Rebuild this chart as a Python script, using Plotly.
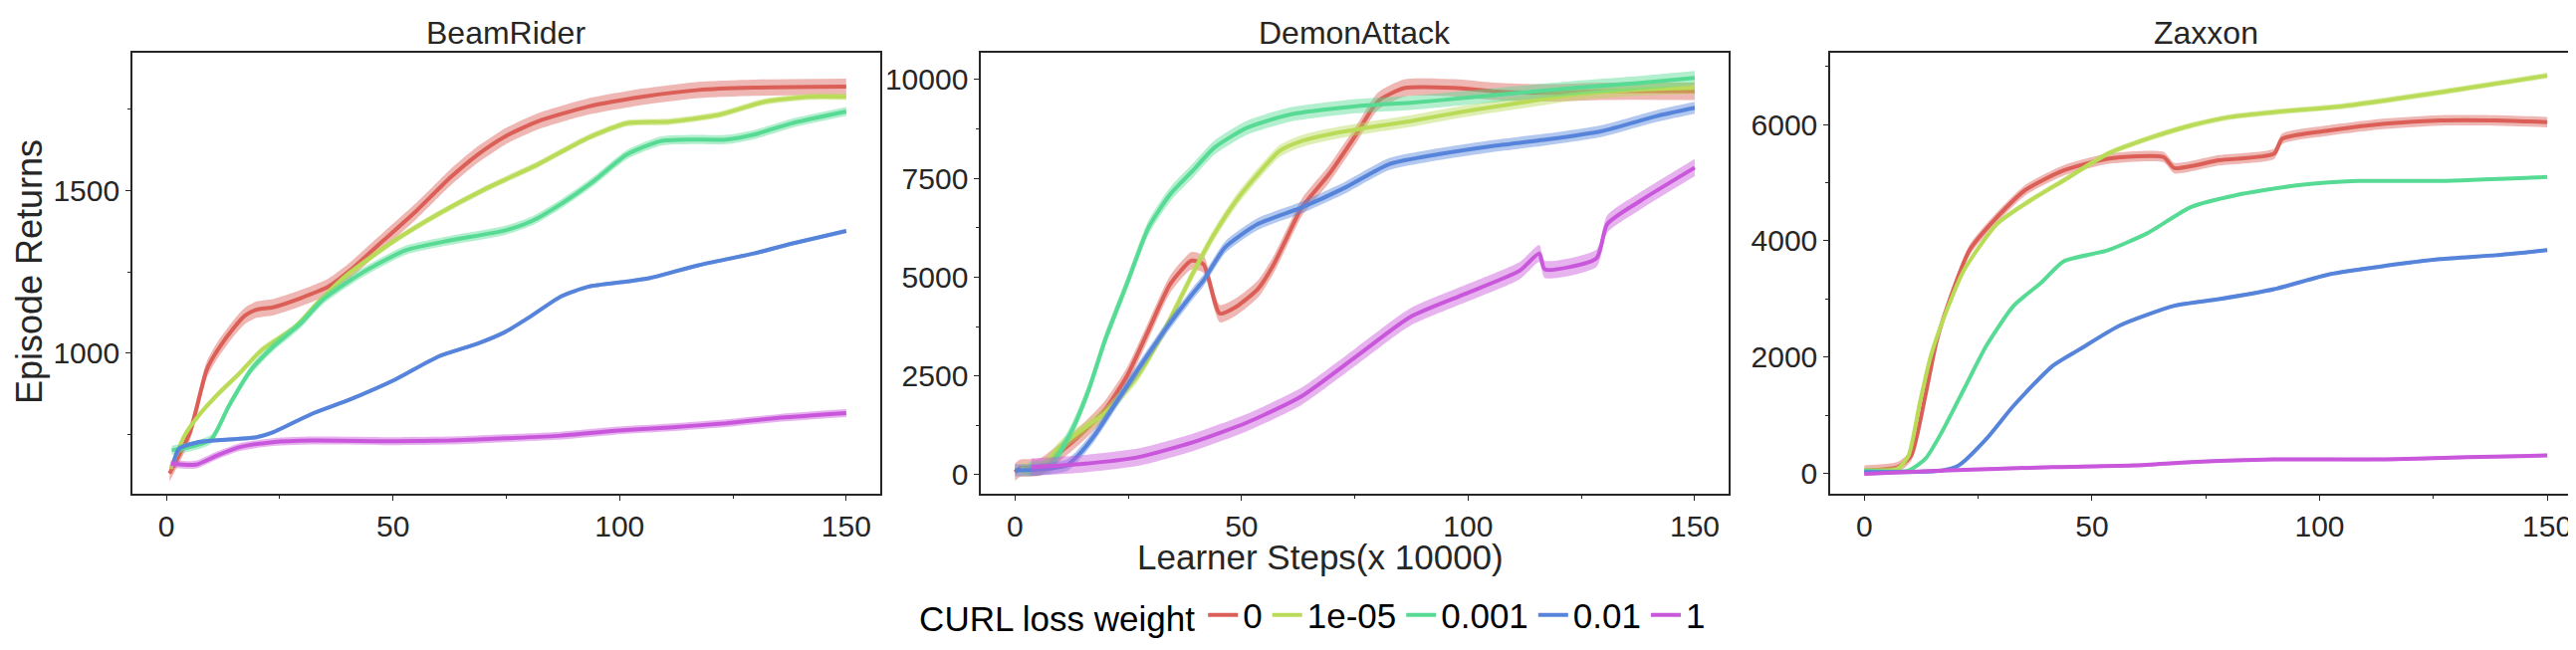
# Episode returns vs learner steps for three Atari games, grouped by CURL loss weight
import numpy as np
import plotly.graph_objects as go
from plotly.subplots import make_subplots

GAMES = ['BeamRider', 'DemonAttack', 'Zaxxon']
WEIGHTS = ['0', '1e-05', '0.001', '0.01', '1']
COLORS = ['#db5f57', '#b9db57', '#57db94', '#5784db', '#c957db']

# BeamRider, one x/y pair per loss weight
BR_X_0 = [0.7, 5.2, 8.9, 11.3, 15, 17.4, 19.9, 23.5, 29.6, 35.7, 40.6, 47.9, 55.2, 62.6, 68.7, 74.8, 82, 93, 105, 117.4, 129.6, 150]
BR_Y_0 = [632, 758, 950, 1010, 1080, 1116, 1134, 1141, 1169, 1204, 1255, 1346, 1437, 1538, 1609, 1665, 1711, 1756, 1786, 1807, 1814, 1817]
BR_X_1 = [1, 4, 7.7, 11.3, 16.2, 21, 28.4, 33.3, 39.4, 50.4, 60, 71, 82, 93, 101.6, 111, 122, 132, 141.8, 150]
BR_Y_1 = [647, 748, 819, 874, 940, 1010, 1081, 1154, 1235, 1346, 1427, 1508, 1579, 1660, 1705, 1710, 1731, 1771, 1786, 1786]
BR_X_2 = [1.2, 6.5, 10, 13.8, 18.7, 23.5, 29.6, 34.5, 43, 52.8, 62.6, 74.8, 80.9, 87, 94.3, 101.6, 109, 116, 123.5, 129.6, 138, 150]
BR_Y_2 = [703, 718, 738, 839, 950, 1020, 1091, 1164, 1245, 1316, 1346, 1377, 1407, 1457, 1528, 1609, 1650, 1655, 1655, 1670, 1705, 1741]
BR_X_3 = [1.6, 2.8, 7, 13.8, 19.9, 23.5, 32, 40.6, 50.4, 60, 68.7, 74.8, 80, 87, 93, 101.6, 106.5, 117.4, 129.6, 138, 150]
BR_Y_3 = [667, 708, 728, 736, 743, 758, 814, 859, 919, 990, 1030, 1066, 1110, 1174, 1204, 1220, 1230, 1270, 1306, 1336, 1375]
BR_X_4 = [1, 6.5, 11.3, 16.2, 23.5, 32, 50.4, 62.6, 74.8, 87, 99, 111, 123.5, 135.7, 150]
BR_Y_4 = [662, 659, 688, 713, 728, 733, 731, 733, 740, 748, 763, 773, 786, 803, 817]
BR_SPREAD = [25, 10, 14, 6, 12]

# DemonAttack
DA_X_0 = [0, 1.2, 5.4, 9, 15, 19.9, 24.7, 29.5, 34.3, 39, 41.6, 45.2, 48.8, 53.6, 57, 60, 63.3, 69.3, 75.3, 80.1, 86.1, 97, 105.4, 117.5, 129.5, 150]
DA_Y_0 = [67, 167, 190, 485, 1070, 1655, 2490, 3660, 4830, 5420, 5330, 4080, 4250, 4700, 5300, 6000, 6765, 7605, 8613, 9454, 9790, 9790, 9706, 9664, 9706, 9706]
DA_X_1 = [1.2, 5.4, 10.2, 15, 19.9, 27, 33, 39.2, 44, 48.8, 53.6, 58.4, 63.3, 69.3, 77.7, 87.3, 99.4, 111.4, 123.5, 138, 150]
DA_Y_1 = [150, 150, 735, 1150, 1570, 2490, 3660, 5084, 6093, 6933, 7605, 8193, 8445, 8613, 8782, 8950, 9202, 9412, 9622, 9748, 9790]
DA_X_2 = [3, 7.8, 12.7, 16.3, 19.9, 24.7, 29.5, 34.3, 39.2, 44, 51.2, 60.8, 75.3, 87.3, 99.4, 111.4, 123.5, 138, 150]
DA_Y_2 = [150, 234, 1154, 2157, 3411, 4832, 6261, 7101, 7689, 8277, 8782, 9118, 9328, 9412, 9538, 9664, 9790, 9916, 10042]
DA_X_3 = [0, 5, 11.4, 13.9, 17.5, 22.3, 27.1, 33.1, 39.2, 41.6, 46.4, 53.6, 63.3, 72.9, 82.5, 93.4, 105.4, 117.5, 129.5, 141.6, 150]
DA_Y_3 = [110, 130, 234, 485, 987, 1822, 2660, 3660, 4581, 4916, 5757, 6345, 6765, 7269, 7857, 8109, 8319, 8487, 8698, 9076, 9286]
DA_X_4 = [3.6, 15, 27.1, 39.2, 51.2, 63.3, 75.3, 87.3, 99.4, 111.4, 115.7, 116.9, 128.3, 130.7, 138, 150]
DA_Y_4 = [192, 276, 443, 819, 1321, 1990, 2993, 3996, 4581, 5166, 5600, 5200, 5480, 6345, 6933, 7773]
DA_SPREAD = [220, 150, 180, 150, 220]

# Zaxxon
ZX_X_0 = [0, 7.3, 10.3, 13.4, 15.8, 18.2, 23.1, 29.2, 35.3, 43.8, 53.5, 65.7, 68.1, 77.9, 90, 91.8, 102.2, 114.4, 126.5, 138.7, 150]
ZX_Y_0 = [57, 114, 314, 1343, 2257, 2869, 3840, 4411, 4869, 5211, 5411, 5440, 5250, 5383, 5497, 5754, 5897, 6011, 6069, 6069, 6040]
ZX_X_1 = [0, 7.3, 9.7, 12.2, 14.6, 18.2, 21.9, 29.2, 36.5, 43.8, 53.5, 63.3, 71.8, 80.3, 90, 104.6, 116.8, 131.4, 150]
ZX_Y_1 = [57, 86, 314, 1228, 2028, 2828, 3500, 4297, 4697, 5040, 5497, 5783, 5983, 6126, 6211, 6309, 6440, 6611, 6840]
ZX_X_2 = [0, 9.7, 13.4, 17, 21.9, 26.8, 32.8, 38.9, 43.8, 53.5, 62, 71.8, 81.5, 94.9, 108.3, 126.5, 150]
ZX_Y_2 = [57, 57, 257, 714, 1457, 2200, 2886, 3286, 3650, 3840, 4126, 4583, 4783, 4954, 5029, 5029, 5097]
ZX_X_3 = [0, 17, 20.7, 26.8, 32.8, 41.4, 47.4, 56, 68.1, 77.9, 90, 102.2, 114.4, 126.5, 138.7, 150]
ZX_Y_3 = [29, 57, 143, 600, 1171, 1857, 2143, 2543, 2886, 3000, 3171, 3428, 3571, 3686, 3754, 3840]
ZX_X_4 = [0, 17, 41.4, 59.6, 71.8, 90, 114.4, 132.6, 150]
ZX_Y_4 = [0, 57, 114, 143, 200, 246, 246, 286, 314]
ZX_SPREAD = [90, 50, 25, 30, 30]

PANELS = [
    ([BR_X_0, BR_X_1, BR_X_2, BR_X_3, BR_X_4], [BR_Y_0, BR_Y_1, BR_Y_2, BR_Y_3, BR_Y_4], BR_SPREAD),
    ([DA_X_0, DA_X_1, DA_X_2, DA_X_3, DA_X_4], [DA_Y_0, DA_Y_1, DA_Y_2, DA_Y_3, DA_Y_4], DA_SPREAD),
    ([ZX_X_0, ZX_X_1, ZX_X_2, ZX_X_3, ZX_X_4], [ZX_Y_0, ZX_Y_1, ZX_Y_2, ZX_Y_3, ZX_Y_4], ZX_SPREAD),
]

# axis setup per panel: y range, major step, minor step
Y_RANGES = [[570, 1921], [-480, 10680], [-342, 7231]]
Y_DTICK = [500, 2500, 2000]
Y_MINOR = [250, 1250, 1000]
X_DOMAINS = [[0.0483, 0.3386], [0.3777, 0.6680], [0.7074, 0.9990]]

FONT = 'Liberation Sans, Arial, sans-serif'
INK = '#262626'
SMOOTH = dict(shape='spline', smoothing=0.6)


def rgba(hexcol, a):
    h = hexcol.lstrip('#')
    return 'rgba(%d,%d,%d,%.2f)' % (int(h[0:2], 16), int(h[2:4], 16), int(h[4:6], 16), a)


fig = make_subplots(rows=1, cols=3)

for p, (xs, ys, spread) in enumerate(PANELS):
    for i in range(len(WEIGHTS)):
        x = np.array(xs[i])
        y = np.array(ys[i])
        fig.add_trace(go.Scatter(x=x, y=y + spread[i], mode='lines', line=dict(width=0, **SMOOTH),
                                 showlegend=False, hoverinfo='skip'), row=1, col=p + 1)
        fig.add_trace(go.Scatter(x=x, y=y - spread[i], mode='lines', line=dict(width=0, **SMOOTH),
                                 fill='tonexty', fillcolor=rgba(COLORS[i], 0.45),
                                 showlegend=False, hoverinfo='skip'), row=1, col=p + 1)
        fig.add_trace(go.Scatter(x=x, y=y, mode='lines', name=WEIGHTS[i],
                                 line=dict(color=COLORS[i], width=4, **SMOOTH),
                                 showlegend=(p == 0), legendgroup=WEIGHTS[i]),
                      row=1, col=p + 1)

axis_common = dict(
    showline=True, mirror=True, linecolor=INK, linewidth=1.5,
    ticks='outside', ticklen=5, tickwidth=1.3, tickcolor=INK,
    showgrid=False, zeroline=False, tickformat='d',
    tickfont=dict(family=FONT, size=30, color=INK),
)

for p in range(3):
    sfx = '' if p == 0 else str(p + 1)
    fig.layout['xaxis' + sfx].update(
        domain=X_DOMAINS[p], range=[-7.5, 157.5], tick0=0, dtick=50,
        minor=dict(dtick=25, ticklen=3, tickwidth=1, tickcolor=INK, ticks='outside'),
        **axis_common)
    fig.layout['yaxis' + sfx].update(
        domain=[0.2527, 0.9311], range=Y_RANGES[p], tick0=0, dtick=Y_DTICK[p],
        minor=dict(dtick=Y_MINOR[p], ticklen=3, tickwidth=1, tickcolor=INK, ticks='outside'),
        **axis_common)

annotations = []
for p in range(3):
    annotations.append(dict(
        text=GAMES[p], x=sum(X_DOMAINS[p]) / 2, y=0.962, xref='paper', yref='paper',
        xanchor='center', yanchor='middle', showarrow=False,
        font=dict(family=FONT, size=32, color=INK)))
annotations.append(dict(
    text='Learner Steps(x 10000)', x=0.5095, y=0.156, xref='paper', yref='paper',
    xanchor='center', yanchor='middle', showarrow=False,
    font=dict(family=FONT, size=35, color=INK)))
annotations.append(dict(
    text='Episode Returns', x=0.0081, y=0.594, xref='paper', yref='paper', textangle=-90,
    xanchor='center', yanchor='middle', showarrow=False,
    font=dict(family=FONT, size=36, color=INK)))

fig.update_layout(
    width=2587, height=653, autosize=False,
    margin=dict(l=0, r=0, t=0, b=0),
    paper_bgcolor='white', plot_bgcolor='white',
    annotations=annotations,
    legend=dict(
        orientation='h', x=0.507, xanchor='center', y=0.066, yanchor='middle',
        title=dict(text='CURL loss weight', side='left', font=dict(family=FONT, size=35, color='black')),
        font=dict(family=FONT, size=35, color='black'),
        itemwidth=30, bgcolor='rgba(0,0,0,0)', tracegroupgap=0,
    ),
)

fig.write_html('out.html')
